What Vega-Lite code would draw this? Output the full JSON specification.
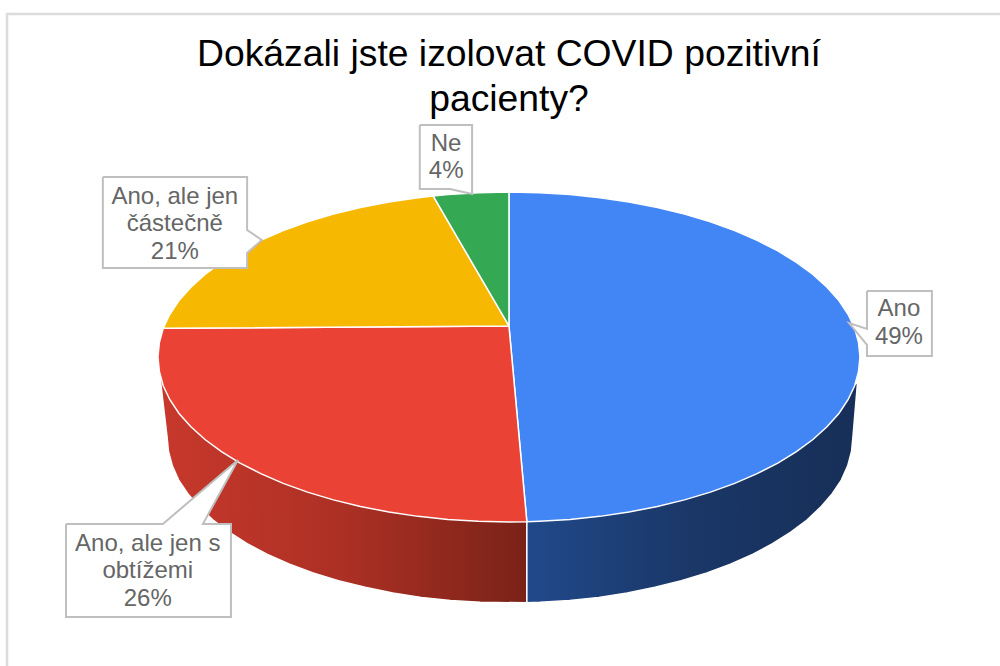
{
"$schema":"https://vega.github.io/schema/vega-lite/v6.json",
"width":1000,"height":666,"padding":0,"autosize":{"type":"none"},
"background":"white",
"view":{"stroke":null},
"title":{"text":["Dokázali jste izolovat COVID pozitivní","pacienty?"],"font":"Liberation Sans","fontSize":37.3,"fontWeight":"normal","color":"#000000","anchor":"middle","dx":9,"dy":160,"lineHeight":45,"baseline":"bottom"},
"datasets":{
"frame":[{"i":1,"u":-143,"v":-187.3},{"i":2,"u":-143,"v":207.9},{"i":3,"u":139.9,"v":207.9}],
"redside":[{"i":1,"u":5.1,"v":-99.9},{"i":2,"u":5.1,"v":-149},{"i":3,"u":-8.2,"v":-148.7},{"i":4,"u":-16.7,"v":-147.6},{"i":5,"u":-25,"v":-145.7},{"i":6,"u":-33.1,"v":-143.1},{"i":7,"u":-41,"v":-139.6},{"i":8,"u":-48.6,"v":-135.6},{"i":9,"u":-55.8,"v":-130.9},{"i":10,"u":-62.5,"v":-125.6},{"i":11,"u":-68.8,"v":-119.6},{"i":12,"u":-74.6,"v":-113.2},{"i":13,"u":-79.7,"v":-106.2},{"i":14,"u":-84.3,"v":-98.8},{"i":15,"u":-88.2,"v":-91},{"i":16,"u":-91.5,"v":-82.9},{"i":17,"u":-94.1,"v":-74.6},{"i":18,"u":-95.9,"v":-66},{"i":19,"u":-97,"v":-57.3},{"i":20,"u":-97.4,"v":-48.5},{"i":21,"u":-99.6,"v":-8.7},{"i":22,"u":5.1,"v":-99.9}],
"navyside":[{"i":1,"u":5.1,"v":-99.9},{"i":2,"u":5.1,"v":-149},{"i":3,"u":8.8,"v":-148.7},{"i":4,"u":17.3,"v":-147.6},{"i":5,"u":25.6,"v":-145.7},{"i":6,"u":33.7,"v":-143.1},{"i":7,"u":41.6,"v":-139.6},{"i":8,"u":49.1,"v":-135.6},{"i":9,"u":56.4,"v":-130.9},{"i":10,"u":63.1,"v":-125.6},{"i":11,"u":69.4,"v":-119.6},{"i":12,"u":75.1,"v":-113.2},{"i":13,"u":80.3,"v":-106.2},{"i":14,"u":84.9,"v":-98.8},{"i":15,"u":88.8,"v":-91},{"i":16,"u":92.1,"v":-82.9},{"i":17,"u":94.7,"v":-74.6},{"i":18,"u":96.5,"v":-66},{"i":19,"u":97.6,"v":-57.3},{"i":20,"u":98,"v":-48.5},{"i":21,"u":99.3,"v":-15.6},{"i":22,"u":5.1,"v":-99.9}],
"slices":[
{"slice":"Ano","i":1,"u":0,"v":18.8},{"slice":"Ano","i":2,"u":0,"v":100},{"slice":"Ano","i":3,"u":8.7,"v":99.6},{"slice":"Ano","i":4,"u":17.4,"v":98.5},{"slice":"Ano","i":5,"u":25.9,"v":96.6},{"slice":"Ano","i":6,"u":34.2,"v":94},{"slice":"Ano","i":7,"u":42.3,"v":90.6},{"slice":"Ano","i":8,"u":50,"v":86.6},{"slice":"Ano","i":9,"u":57.4,"v":81.9},{"slice":"Ano","i":10,"u":64.3,"v":76.6},{"slice":"Ano","i":11,"u":70.7,"v":70.7},{"slice":"Ano","i":12,"u":76.6,"v":64.3},{"slice":"Ano","i":13,"u":81.9,"v":57.4},{"slice":"Ano","i":14,"u":86.6,"v":50},{"slice":"Ano","i":15,"u":90.6,"v":42.3},{"slice":"Ano","i":16,"u":94,"v":34.2},{"slice":"Ano","i":17,"u":96.6,"v":25.9},{"slice":"Ano","i":18,"u":98.5,"v":17.4},{"slice":"Ano","i":19,"u":99.6,"v":8.7},{"slice":"Ano","i":20,"u":100,"v":0},{"slice":"Ano","i":21,"u":99.6,"v":-8.7},{"slice":"Ano","i":22,"u":98.5,"v":-17.4},{"slice":"Ano","i":23,"u":96.6,"v":-25.9},{"slice":"Ano","i":24,"u":94,"v":-34.2},{"slice":"Ano","i":25,"u":90.6,"v":-42.3},{"slice":"Ano","i":26,"u":86.6,"v":-50},{"slice":"Ano","i":27,"u":81.9,"v":-57.4},{"slice":"Ano","i":28,"u":76.6,"v":-64.3},{"slice":"Ano","i":29,"u":70.7,"v":-70.7},{"slice":"Ano","i":30,"u":64.3,"v":-76.6},{"slice":"Ano","i":31,"u":57.4,"v":-81.9},{"slice":"Ano","i":32,"u":50,"v":-86.6},{"slice":"Ano","i":33,"u":42.3,"v":-90.6},{"slice":"Ano","i":34,"u":34.2,"v":-94},{"slice":"Ano","i":35,"u":25.9,"v":-96.6},{"slice":"Ano","i":36,"u":17.4,"v":-98.5},{"slice":"Ano","i":37,"u":8.7,"v":-99.6},{"slice":"Ano","i":38,"u":5.1,"v":-99.9},{"slice":"Ano","i":39,"u":0,"v":18.8},
{"slice":"Ano, ale jen s obtížemi","i":1,"u":0,"v":18.8},{"slice":"Ano, ale jen s obtížemi","i":2,"u":5.1,"v":-99.9},{"slice":"Ano, ale jen s obtížemi","i":3,"u":0,"v":-100},{"slice":"Ano, ale jen s obtížemi","i":4,"u":-8.7,"v":-99.6},{"slice":"Ano, ale jen s obtížemi","i":5,"u":-17.4,"v":-98.5},{"slice":"Ano, ale jen s obtížemi","i":6,"u":-25.9,"v":-96.6},{"slice":"Ano, ale jen s obtížemi","i":7,"u":-34.2,"v":-94},{"slice":"Ano, ale jen s obtížemi","i":8,"u":-42.3,"v":-90.6},{"slice":"Ano, ale jen s obtížemi","i":9,"u":-50,"v":-86.6},{"slice":"Ano, ale jen s obtížemi","i":10,"u":-57.4,"v":-81.9},{"slice":"Ano, ale jen s obtížemi","i":11,"u":-64.3,"v":-76.6},{"slice":"Ano, ale jen s obtížemi","i":12,"u":-70.7,"v":-70.7},{"slice":"Ano, ale jen s obtížemi","i":13,"u":-76.6,"v":-64.3},{"slice":"Ano, ale jen s obtížemi","i":14,"u":-81.9,"v":-57.4},{"slice":"Ano, ale jen s obtížemi","i":15,"u":-86.6,"v":-50},{"slice":"Ano, ale jen s obtížemi","i":16,"u":-90.6,"v":-42.3},{"slice":"Ano, ale jen s obtížemi","i":17,"u":-94,"v":-34.2},{"slice":"Ano, ale jen s obtížemi","i":18,"u":-96.6,"v":-25.9},{"slice":"Ano, ale jen s obtížemi","i":19,"u":-98.5,"v":-17.4},{"slice":"Ano, ale jen s obtížemi","i":20,"u":-99.6,"v":-8.7},{"slice":"Ano, ale jen s obtížemi","i":21,"u":-100,"v":0},{"slice":"Ano, ale jen s obtížemi","i":22,"u":-99.6,"v":8.7},{"slice":"Ano, ale jen s obtížemi","i":23,"u":-98.5,"v":17.4},{"slice":"Ano, ale jen s obtížemi","i":24,"u":0,"v":18.8},
{"slice":"Ano, ale jen částečně","i":1,"u":0,"v":18.8},{"slice":"Ano, ale jen částečně","i":2,"u":-98.5,"v":17.4},{"slice":"Ano, ale jen částečně","i":3,"u":-96.6,"v":25.9},{"slice":"Ano, ale jen částečně","i":4,"u":-94,"v":34.2},{"slice":"Ano, ale jen částečně","i":5,"u":-90.6,"v":42.3},{"slice":"Ano, ale jen částečně","i":6,"u":-86.6,"v":50},{"slice":"Ano, ale jen částečně","i":7,"u":-81.9,"v":57.4},{"slice":"Ano, ale jen částečně","i":8,"u":-76.6,"v":64.3},{"slice":"Ano, ale jen částečně","i":9,"u":-70.7,"v":70.7},{"slice":"Ano, ale jen částečně","i":10,"u":-64.3,"v":76.6},{"slice":"Ano, ale jen částečně","i":11,"u":-57.4,"v":81.9},{"slice":"Ano, ale jen částečně","i":12,"u":-50,"v":86.6},{"slice":"Ano, ale jen částečně","i":13,"u":-42.3,"v":90.6},{"slice":"Ano, ale jen částečně","i":14,"u":-34.2,"v":94},{"slice":"Ano, ale jen částečně","i":15,"u":-25.9,"v":96.6},{"slice":"Ano, ale jen částečně","i":16,"u":-21.6,"v":97.6},{"slice":"Ano, ale jen částečně","i":17,"u":0,"v":18.8},
{"slice":"Ne","i":1,"u":0,"v":18.8},{"slice":"Ne","i":2,"u":-21.6,"v":97.6},{"slice":"Ne","i":3,"u":-17.4,"v":98.5},{"slice":"Ne","i":4,"u":-8.7,"v":99.6},{"slice":"Ne","i":5,"u":0,"v":100},{"slice":"Ne","i":6,"u":0,"v":18.8}
],
"callouts":[
{"slice":"Ano, ale jen částečně","i":1,"u":-115.7,"v":109.1},{"slice":"Ano, ale jen částečně","i":2,"u":-74.6,"v":109.1},{"slice":"Ano, ale jen částečně","i":3,"u":-74.6,"v":77},{"slice":"Ano, ale jen částečně","i":4,"u":-70.4,"v":70.9},{"slice":"Ano, ale jen částečně","i":5,"u":-74.6,"v":63},{"slice":"Ano, ale jen částečně","i":6,"u":-74.6,"v":53.9},{"slice":"Ano, ale jen částečně","i":7,"u":-115.7,"v":53.9},{"slice":"Ano, ale jen částečně","i":8,"u":-115.7,"v":109.1},
{"slice":"Ano, ale jen s obtížemi","i":1,"u":-126.2,"v":-101.2},{"slice":"Ano, ale jen s obtížemi","i":2,"u":-98.6,"v":-101.2},{"slice":"Ano, ale jen s obtížemi","i":3,"u":-77.2,"v":-62.4},{"slice":"Ano, ale jen s obtížemi","i":4,"u":-87.2,"v":-101.2},{"slice":"Ano, ale jen s obtížemi","i":5,"u":-79.2,"v":-101.2},{"slice":"Ano, ale jen s obtížemi","i":6,"u":-79.2,"v":-157.6},{"slice":"Ano, ale jen s obtížemi","i":7,"u":-126.2,"v":-157.6},{"slice":"Ano, ale jen s obtížemi","i":8,"u":-126.2,"v":-101.2},
{"slice":"Ano","i":1,"u":102,"v":40},{"slice":"Ano","i":2,"u":120.5,"v":40},{"slice":"Ano","i":3,"u":120.5,"v":0.6},{"slice":"Ano","i":4,"u":102,"v":0.6},{"slice":"Ano","i":5,"u":102,"v":7.3},{"slice":"Ano","i":6,"u":96.9,"v":20.6},{"slice":"Ano","i":7,"u":102,"v":17},{"slice":"Ano","i":8,"u":102,"v":40},
{"slice":"Ne","i":1,"u":-25.4,"v":140.6},{"slice":"Ne","i":2,"u":-10.5,"v":140.6},{"slice":"Ne","i":3,"u":-10.5,"v":101.8},{"slice":"Ne","i":4,"u":-10.5,"v":98.8},{"slice":"Ne","i":5,"u":-16.8,"v":101.8},{"slice":"Ne","i":6,"u":-25.4,"v":101.8},{"slice":"Ne","i":7,"u":-25.4,"v":140.6}
],
"labels":[
{"slice":"Ano","share":49,"label":"Ano\n49%","u":111.1,"v":28.8},
{"slice":"Ano, ale jen s obtížemi","share":26,"label":"Ano, ale jen s\nobtížemi\n26%","u":-102.9,"v":-113.3},
{"slice":"Ano, ale jen částečně","share":21,"label":"Ano, ale jen\nčástečně\n21%","u":-95.2,"v":97},
{"slice":"Ne","share":4,"label":"Ne\n4%","u":-17.9,"v":129.4}
]
},
"encoding":{
"x":{"field":"u","type":"quantitative","axis":null,"scale":{"domain":[-145,139.9],"nice":false,"zero":false}},
"y":{"field":"v","type":"quantitative","axis":null,"scale":{"domain":[-187.3,216.4],"nice":false,"zero":false}}
},
"layer":[
{"data":{"name":"frame"},"mark":{"type":"line","color":"#DCDCDC","strokeWidth":2.5,"clip":false},"encoding":{"order":{"field":"i"}}},
{"data":{"name":"redside"},"mark":{"type":"line","filled":true,"stroke":"white","strokeWidth":1.5,"fill":{"gradient":"linear","x1":0,"y1":0,"x2":1,"y2":0,"stops":[{"offset":0,"color":"#C8382C"},{"offset":0.5,"color":"#AC3024"},{"offset":1,"color":"#7A2218"}]}},"encoding":{"order":{"field":"i"}}},
{"data":{"name":"navyside"},"mark":{"type":"line","filled":true,"stroke":"white","strokeWidth":1.5,"fill":{"gradient":"linear","x1":0,"y1":0,"x2":1,"y2":0,"stops":[{"offset":0,"color":"#21498A"},{"offset":0.5,"color":"#1A3767"},{"offset":1,"color":"#172F58"}]}},"encoding":{"order":{"field":"i"}}},
{"data":{"name":"slices"},"mark":{"type":"line","filled":true,"stroke":"white","strokeWidth":1.5},"encoding":{"order":{"field":"i"},"detail":{"field":"slice"},"fill":{"field":"slice","type":"nominal","legend":null,"scale":{"domain":["Ano","Ano, ale jen s obtížemi","Ano, ale jen částečně","Ne"],"range":["#4285F4","#EA4335","#F6B800","#34A853"]}}}},
{"data":{"name":"callouts"},"mark":{"type":"line","filled":true,"fill":"white","stroke":"#BFBFBF","strokeWidth":2},"encoding":{"order":{"field":"i"},"detail":{"field":"slice"}}},
{"data":{"name":"labels"},"mark":{"type":"text","font":"Liberation Sans","fontSize":24,"color":"#666666","align":"center","baseline":"middle","lineBreak":"\n","lineHeight":27.5},"encoding":{"text":{"field":"label"}}}
]
}
